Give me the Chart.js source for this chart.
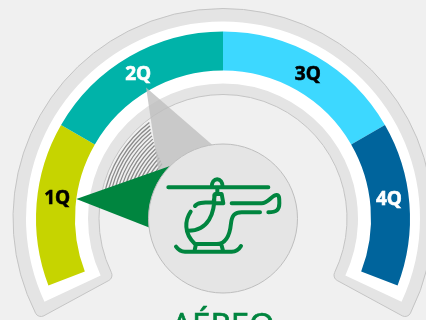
<!DOCTYPE html>
<html>
<head>
    <meta charset="utf-8">
    <script src="https://cdn.jsdelivr.net/npm/chart.js"></script>
    <style>
        html, body { margin: 0; width: 426px; height: 320px; overflow: hidden; background-color: #f0f0f0; }
        canvas { position: absolute; left: 0; top: 0; }
    </style>
</head>
<body>
    <canvas id="back" width="446" height="437"></canvas>
    <canvas id="middle" width="446" height="437"></canvas>
    <canvas id="front" width="446" height="437"></canvas>
    <script>
        // --- DATA ---
        const quarters = ['1Q', '2Q', '3Q', '4Q'];
        const quarterSpans = [51, 60, 60, 51];
        const quarterColors = ['#c6d400', '#00b3a9', '#3dd8ff', '#00649c'];
        const labelAngles = [-83, -30.5, 30.5, 83.5];
        const labelColors = ['#000000', '#ffffff', '#000000', '#ffffff'];
        const currentAngle = -82.4;
        const previousAngle = -30.4;
        const title = 'AÉREO';

        const helicopter = 'M25 52H325 M155 52C155 20 188 20 188 52 M165 72H185L190 100H160Z M172 52V72 ' +
            'M105 108C112 98 125 97 160 97 M163 75C165 130 145 182 85 182 M92 125C75 150 70 190 105 222H170C200 222 210 190 213 160C216 135 225 127 245 127H300 ' +
            'M215 100H305C325 100 335 75 350 75C358 75 358 85 358 100C358 120 350 127 325 127 ' +
            'M48 230C55 240 62 245 75 245H215C228 245 236 240 243 228 M103 245L108 222 M190 245L183 220';

        const rad = (deg) => (deg - 90) * Math.PI / 180;

        // doughnut scales itself when it is not a full circle, the weight 0 ring stops that
        const ring = (outer, inner, start, spans, options) => ({
            type: 'doughnut',
            data: {
                datasets: [
                    { data: [1], backgroundColor: 'transparent', borderWidth: 0, weight: 0, rotation: 0, circumference: 360 },
                    { data: spans, rotation: start, circumference: -2 * start, ...options }
                ]
            },
            options: {
                responsive: false,
                animation: false,
                radius: outer,
                cutout: (inner / outer * 100) + '%',
                plugins: { legend: { display: false }, tooltip: { enabled: false } }
            }
        });

        const drawNeedle = (ctx, cx, cy, angle, radius, sideA, sideB, color) => {
            const tipX = cx + radius * Math.cos(rad(angle));
            const tipY = cy + radius * Math.sin(rad(angle));
            const ux = -Math.cos(rad(angle));
            const uy = -Math.sin(rad(angle));
            const len = 110;
            const a = len * Math.tan(sideA * Math.PI / 180);
            const b = len * Math.tan(sideB * Math.PI / 180);
            ctx.fillStyle = color;
            ctx.beginPath();
            ctx.moveTo(tipX, tipY);
            ctx.lineTo(tipX + ux * len + uy * a, tipY + uy * len - ux * a);
            ctx.lineTo(tipX + ux * len - uy * b, tipY + uy * len + ux * b);
            ctx.closePath();
            ctx.fill();
        };

        const gaugeParts = {
            id: 'gaugeParts',
            afterDatasetsDraw(chart) {
                const { ctx } = chart;
                const arc = chart.getDatasetMeta(1).data[0];
                const cx = arc.x;
                const cy = arc.y;
                ctx.save();

                // trail left by the needle
                ctx.strokeStyle = '#8a8a8a';
                ctx.lineWidth = 1.3;
                for (let r = 82; r <= 122; r += 3) {
                    ctx.beginPath();
                    ctx.arc(cx, cy, r, rad(-80), rad(-48 + (r - 82) * 0.27));
                    ctx.stroke();
                }

                drawNeedle(ctx, cx, cy, previousAngle, 152, 18.7, 22, 'rgba(190,190,190,0.78)');
                drawNeedle(ctx, cx, cy, currentAngle, 148, 27, 13.8, '#00853f');

                // hub
                ctx.fillStyle = '#e5e5e5';
                ctx.strokeStyle = '#bdbdbd';
                ctx.lineWidth = 1;
                ctx.beginPath();
                ctx.arc(cx, cy, 74.5, 0, Math.PI * 2);
                ctx.fill();
                ctx.stroke();

                // icon
                ctx.save();
                ctx.translate(160, 170);
                ctx.scale(1 / 3, 1 / 3);
                ctx.strokeStyle = '#00853f';
                ctx.lineWidth = 12;
                ctx.lineCap = 'round';
                ctx.lineJoin = 'round';
                ctx.stroke(new Path2D(helicopter));
                ctx.restore();

                // quarter labels, stroked a little since the original face is heavier
                ctx.font = 'bold 19px "Open Sans"';
                ctx.textAlign = 'center';
                ctx.textBaseline = 'middle';
                ctx.lineWidth = 0.6;
                quarters.forEach((q, i) => {
                    const x = cx + 167 * Math.cos(rad(labelAngles[i]));
                    const y = cy + 167 * Math.sin(rad(labelAngles[i]));
                    ctx.fillStyle = labelColors[i];
                    ctx.strokeStyle = labelColors[i];
                    ctx.fillText(q, x, y);
                    ctx.strokeText(q, x, y);
                });

                ctx.fillStyle = '#00853f';
                ctx.strokeStyle = '#00853f';
                ctx.lineWidth = 0.7;
                ctx.font = '33px "Open Sans"';
                ctx.textBaseline = 'alphabetic';
                ctx.fillText(title, cx, 337);
                ctx.strokeText(title, cx, 337);
                ctx.restore();
            }
        };

        new Chart(document.getElementById('back'), ring(210, 124, -118.5, [1], {
            backgroundColor: '#e4e4e4', borderColor: '#c4c4c4', borderWidth: 1, borderRadius: 6
        }));
        new Chart(document.getElementById('middle'), ring(197, 135, -115, [1], {
            backgroundColor: '#ffffff', borderWidth: 0
        }));
        const front = ring(187, 148, -111, quarterSpans, { backgroundColor: quarterColors, borderWidth: 0 });
        front.plugins = [gaugeParts];
        new Chart(document.getElementById('front'), front);
    </script>
</body>
</html>
